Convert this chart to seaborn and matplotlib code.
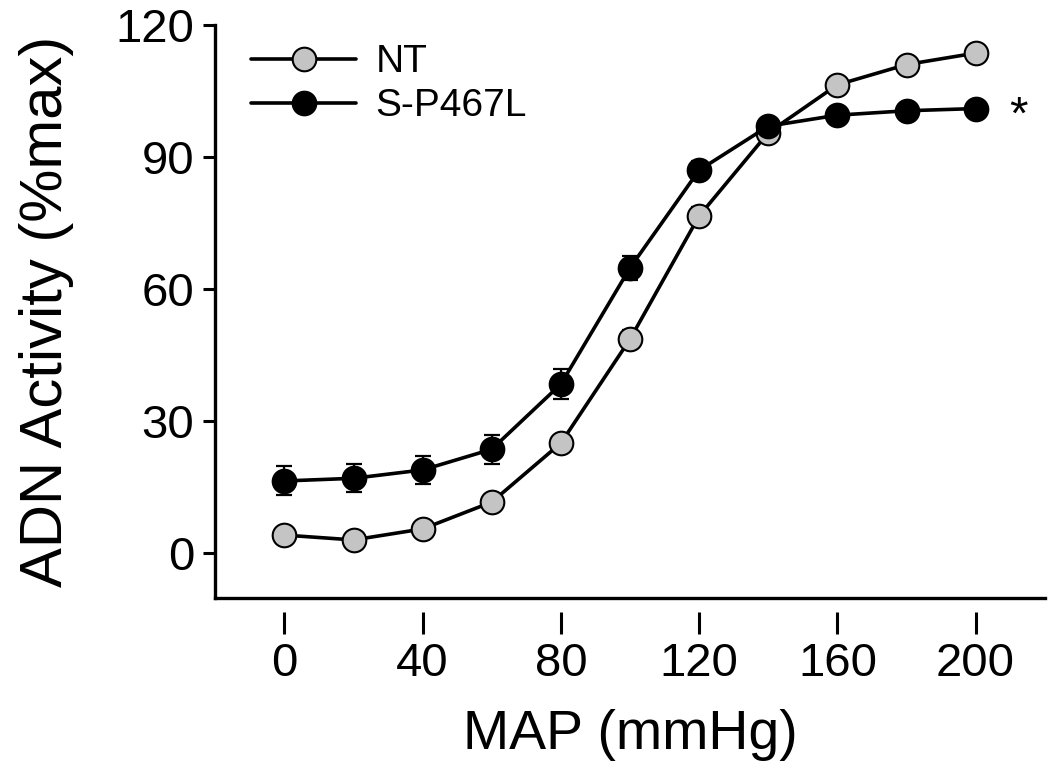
import numpy as np
import pandas as pd
import matplotlib
matplotlib.use("Agg")
import matplotlib.pyplot as plt
import seaborn as sns

# data
map_mmhg = [0, 20, 40, 60, 80, 100, 120, 140, 160, 180, 200]
nt_mean = [4.1, 3.0, 5.5, 11.6, 25.0, 48.6, 76.6, 95.5, 106.4, 111.0, 113.6]
nt_sem = [1.5, 1.2, 1.2, 1.5, 1.5, 2.0, 2.0, 1.5, 1.2, 1.0, 1.0]
sp_mean = [16.4, 17.0, 18.9, 23.6, 38.4, 64.8, 87.0, 97.0, 99.5, 100.5, 101.0]
sp_sem = [3.3, 3.2, 3.2, 3.3, 3.4, 2.8, 2.0, 1.5, 1.5, 1.5, 1.5]
groups = ["NT", "S-P467L"]

df = pd.DataFrame({
    "MAP": map_mmhg * 2,
    "ADN": nt_mean + sp_mean,
    "sem": nt_sem + sp_sem,
    "group": [groups[0]] * len(map_mmhg) + [groups[1]] * len(map_mmhg),
})

sns.set_style("ticks", {"axes.edgecolor": "black", "text.color": "black",
                        "xtick.color": "black", "ytick.color": "black",
                        "axes.labelcolor": "black"})
plt.rcParams["font.family"] = ["Liberation Sans", "DejaVu Sans"]

fig = plt.figure(figsize=(10.5, 7.84), dpi=100)
ax = fig.add_axes([0.205, 0.2372, 0.79, 0.731])

fills = {"NT": "#c4c4c4", "S-P467L": "black"}

for g in groups:
    d = df[df.group == g]
    ax.errorbar(d.MAP, d.ADN, yerr=d["sem"], fmt="none", ecolor="black",
                elinewidth=1.6, capsize=6, capthick=1.6, zorder=2)
    sns.lineplot(x="MAP", y="ADN", data=d, ax=ax, color="black", lw=2.6,
                 marker="o", markersize=17, markerfacecolor=fills[g],
                 markeredgecolor="black", markeredgewidth=1.5, label=g,
                 zorder=3)

# significance mark next to the last S-P467L point
ax.annotate("*", xy=(200, sp_mean[-1]), xytext=(31, -6),
            textcoords="offset points", fontsize=34, ha="center", va="center")

ax.set_xlim(-20, 220)
ax.set_ylim(-10.2, 120)
ax.set_yticks([0, 30, 60, 90, 120])
ax.tick_params(axis="y", direction="out", length=9, width=2.2, labelsize=34, pad=6)
ax.set_xticks([])
ax.set_xlabel("MAP (mmHg)", fontsize=40, labelpad=80)
ax.set_ylabel("ADN Activity (%max)", fontsize=43, labelpad=30)
for s in ["top", "right"]:
    ax.spines[s].set_visible(False)
for s in ["left", "bottom"]:
    ax.spines[s].set_linewidth(2.4)

# detached x ticks, drawn a little below the axis line
sec = ax.secondary_xaxis(-0.024)
sec.set_xticks([0, 40, 80, 120, 160, 200])
sec.spines["bottom"].set_visible(False)
sec.tick_params(direction="out", length=16, width=2.2, labelsize=34, pad=6)

leg = ax.legend(loc="upper left", bbox_to_anchor=(0.02, 1.0), frameon=False,
                fontsize=28, handlelength=2.7, handletextpad=0.5,
                labelspacing=0.2, borderaxespad=0.1)

fig.savefig("out.png", dpi=100)
